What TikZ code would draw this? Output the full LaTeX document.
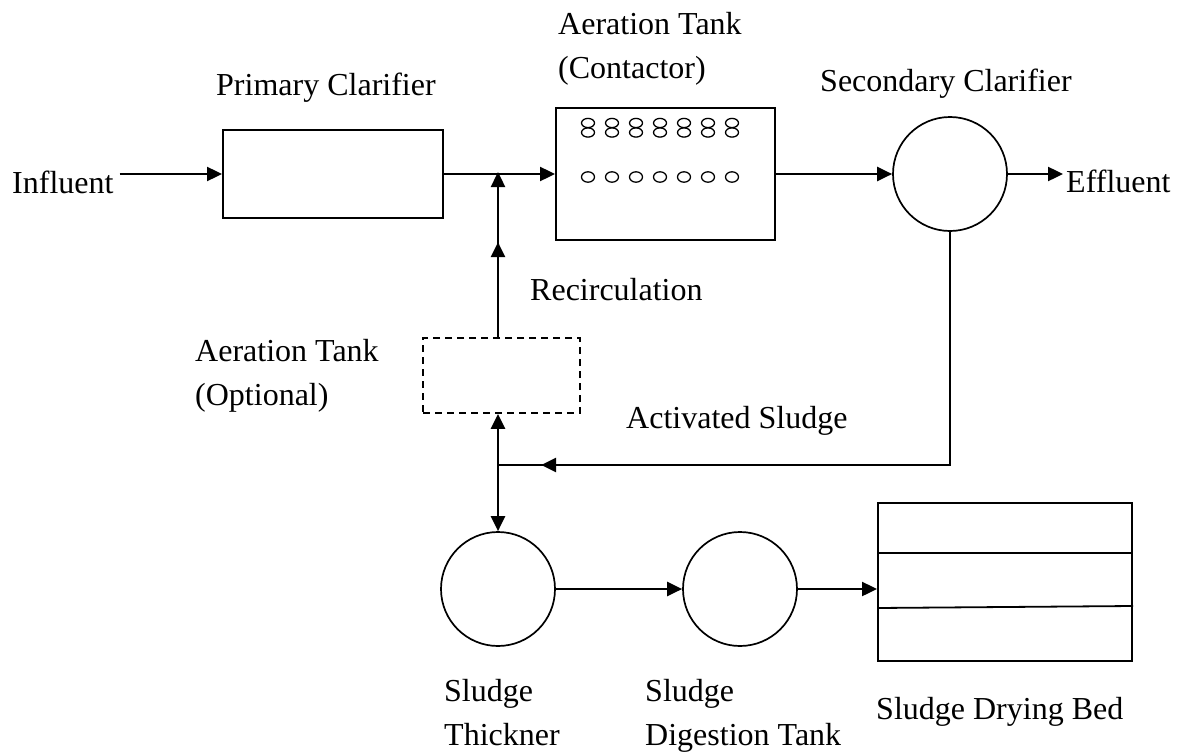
\documentclass[tikz,border=0pt]{standalone}
\usepackage{fontspec}
\setmainfont{Liberation Serif}
\usetikzlibrary{arrows.meta,decorations.markings,calc}
\begin{document}
\begin{tikzpicture}[x=1pt,y=-1pt,
  tip/.tip={Triangle[length=15pt,width=14pt]},
  arr/.style={line width=2.4pt,-tip},
  conn/.style={line width=2.4pt},
  boxsty/.style={draw,line width=2pt,inner sep=0pt},
  circsty/.style={draw,circle,line width=1.7pt,inner sep=0pt,minimum size=114pt},
  bub/.style={line width=1.3pt},
  lbl/.style={anchor=base west,inner sep=0pt,align=left,font=\fontsize{32}{44}\selectfont},
  midarrow/.style={postaction={decorate,decoration={markings,mark=at position #1 with {\arrow{tip}}}}}
]
\useasboundingbox (0,0) rectangle (1180,752);
% process units
\node[boxsty,minimum width=220pt,minimum height=88pt] (prim) at (333,174) {};
\node[boxsty,minimum width=219pt,minimum height=132pt] (aer) at (665.5,174) {};
\node[circsty] (sec) at (950,174) {};
\node[draw,dashed,dash pattern=on 7pt off 5pt,line width=1.8pt,inner sep=0pt,minimum width=157pt,minimum height=75pt] (opt) at (501.5,375.5) {};
\node[circsty] (thk) at (498,589) {};
\node[circsty] (dig) at (740,589) {};
\node[boxsty,minimum width=254pt,minimum height=158pt] (bed) at (1005,582) {};
\draw[line width=1.8pt] (bed.west |- 0,553) -- (bed.east |- 0,553);
\draw[line width=1.8pt] (bed.west |- 0,608) -- (bed.east |- 0,606);
% aeration bubbles
\foreach \i in {0,...,6}{
  \draw[bub] (588+24*\i,123) ellipse [x radius=6.5pt,y radius=4.6pt];
  \draw[bub] (588+24*\i,132.5) ellipse [x radius=6.5pt,y radius=4.6pt];
  \draw[bub] (588+24*\i,177) ellipse [x radius=6.5pt,y radius=5.2pt];
}
% labels (anchor = baseline of last line)
\node[lbl] (infl) at (12,193) {Influent};
\node[lbl] at (216,95) {Primary Clarifier};
\node[lbl] at (558,78) {Aeration Tank\\(Contactor)};
\node[lbl] at (820,92) {Secondary Clarifier};
\node[lbl] (eff) at (1066,192) {Effluent};
\node[lbl] at (530,300) {Recirculation};
\node[lbl] at (195,405) {Aeration Tank\\(Optional)};
\node[lbl] at (626,428) {Activated Sludge};
\node[lbl] at (444,745) {Sludge\\Thickner};
\node[lbl] at (645,745) {Sludge\\Digestion Tank};
\node[lbl] at (876,719) {Sludge Drying Bed};
% junctions
\coordinate (J) at (thk.north |- prim.east);
\coordinate (K) at (thk.north |- 0,465);
% connectors
\draw[arr] ([xshift=6pt]infl.east |- prim.west) -- (prim.west);
\draw[arr] (prim.east) -- (aer.west |- prim.east);
\draw[arr,midarrow=95pt] (J |- opt.north) -- ([yshift=2pt]J);
\draw[arr] (aer.east) -- (sec.west);
\draw[arr] (sec.east) -- ([xshift=-3pt]eff.west |- sec.east);
\draw[conn,midarrow=642pt] (sec.south) |- (K);
\draw[arr] (K) -- (K |- opt.south);
\draw[arr] (K) -- (thk.north);
\draw[arr] (thk.east) -- (dig.west);
\draw[arr] (dig.east) -- (dig.east -| bed.west);
\end{tikzpicture}
\end{document}
